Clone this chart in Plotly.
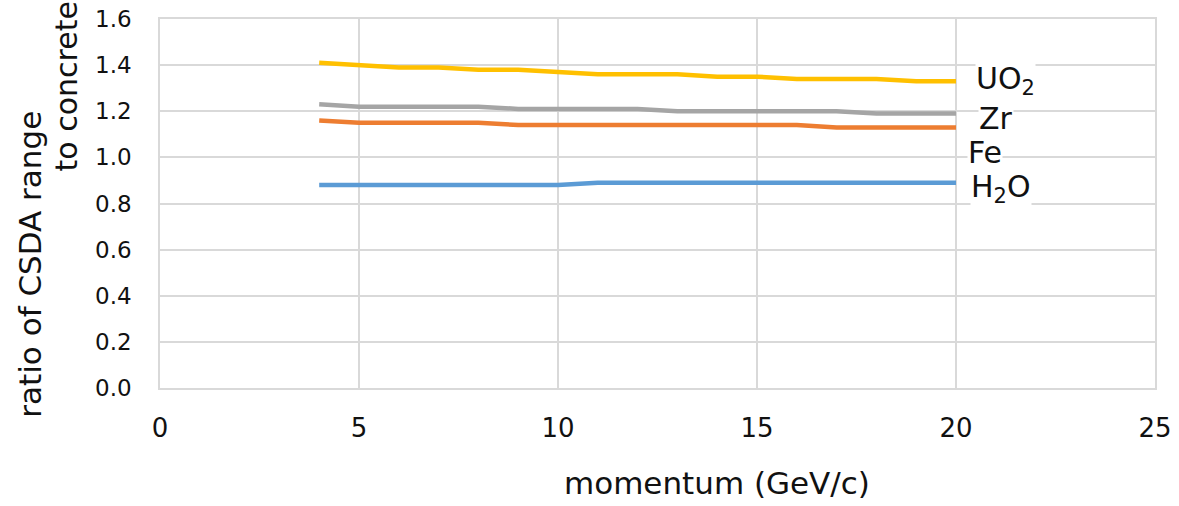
import plotly.graph_objects as go

momentum = [4, 5, 6, 7, 8, 9, 10, 11, 12, 13, 14, 15, 16, 17, 18, 19, 20]
uo2 = [1.41, 1.40, 1.39, 1.39, 1.38, 1.38, 1.37, 1.36, 1.36, 1.36, 1.35, 1.35, 1.34, 1.34, 1.34, 1.33, 1.33]
zr = [1.23, 1.22, 1.22, 1.22, 1.22, 1.21, 1.21, 1.21, 1.21, 1.20, 1.20, 1.20, 1.20, 1.20, 1.19, 1.19, 1.19]
fe = [1.16, 1.15, 1.15, 1.15, 1.15, 1.14, 1.14, 1.14, 1.14, 1.14, 1.14, 1.14, 1.14, 1.13, 1.13, 1.13, 1.13]
h2o = [0.88, 0.88, 0.88, 0.88, 0.88, 0.88, 0.88, 0.89, 0.89, 0.89, 0.89, 0.89, 0.89, 0.89, 0.89, 0.89, 0.89]

series = [
    ("UO<sub>2</sub>", uo2, "#FFC000"),
    ("Zr", zr, "#A5A5A5"),
    ("Fe", fe, "#ED7D31"),
    ("H<sub>2</sub>O", h2o, "#5B9BD5"),
]

FONT = "DejaVu Sans"

fig = go.Figure()
for name, vals, color in series:
    fig.add_trace(go.Scatter(x=momentum, y=vals, mode="lines", name=name,
                             line=dict(color=color, width=4.5), showlegend=False))

# end labels
label_pos = [("UO<sub>2</sub>", 20.48, 1.335), ("Zr", 20.55, 1.17), ("Fe", 20.28, 1.023), ("H<sub>2</sub>O", 20.35, 0.865)]
for text, xv, yv in label_pos:
    fig.add_annotation(x=xv, y=yv, text=text, showarrow=False, xanchor="left", yanchor="middle",
                       font=dict(family=FONT, size=30, color="#111111"), bgcolor="white",
                       borderpad=0)

fig.add_annotation(xref="paper", yref="paper", x=-0.131, y=(388 - 264) / 369,
                   xanchor="center", yanchor="middle",
                   text="ratio of CSDA range", textangle=-90, showarrow=False,
                   font=dict(family=FONT, size=31, color="#111111"))
fig.add_annotation(xref="paper", yref="paper", x=-0.094, y=(388 - 86) / 369,
                   xanchor="center", yanchor="middle",
                   text="to concrete", textangle=-90, showarrow=False,
                   font=dict(family=FONT, size=30, color="#111111"))
fig.add_annotation(xref="paper", yref="paper", x=0.56, y=-0.257, yanchor="middle",
                   text="momentum (GeV/c)", showarrow=False,
                   font=dict(family=FONT, size=31, color="#111111"))

fig.update_layout(
    width=1179, height=506,
    margin=dict(l=160, r=24, t=19, b=118, autoexpand=False),
    plot_bgcolor="white", paper_bgcolor="white",
    font=dict(family=FONT, color="#111111"),
    xaxis=dict(range=[0, 25], tickvals=[0, 5, 10, 15, 20, 25], showgrid=True, automargin=False,
               gridcolor="#D9D9D9", gridwidth=1.5, zeroline=False, showline=True,
               linecolor="#D9D9D9", mirror=True, linewidth=1.5,
               tickfont=dict(size=26, family=FONT), ticklabelstandoff=16),
    yaxis=dict(range=[0, 1.6], tickvals=[0, 0.2, 0.4, 0.6, 0.8, 1.0, 1.2, 1.4, 1.6], automargin=False,
               tickformat=".1f", showgrid=True, gridcolor="#D9D9D9", gridwidth=1.5,
               zeroline=False, showline=True, linecolor="#D9D9D9", mirror=True, linewidth=1.5,
               tickfont=dict(size=23, family=FONT), ticklabelstandoff=22),
)

fig.write_html("out.html", config={"displayModeBar": False},
               post_script="document.body.style.margin='0';document.body.style.padding='0';document.body.style.overflow='hidden';")
